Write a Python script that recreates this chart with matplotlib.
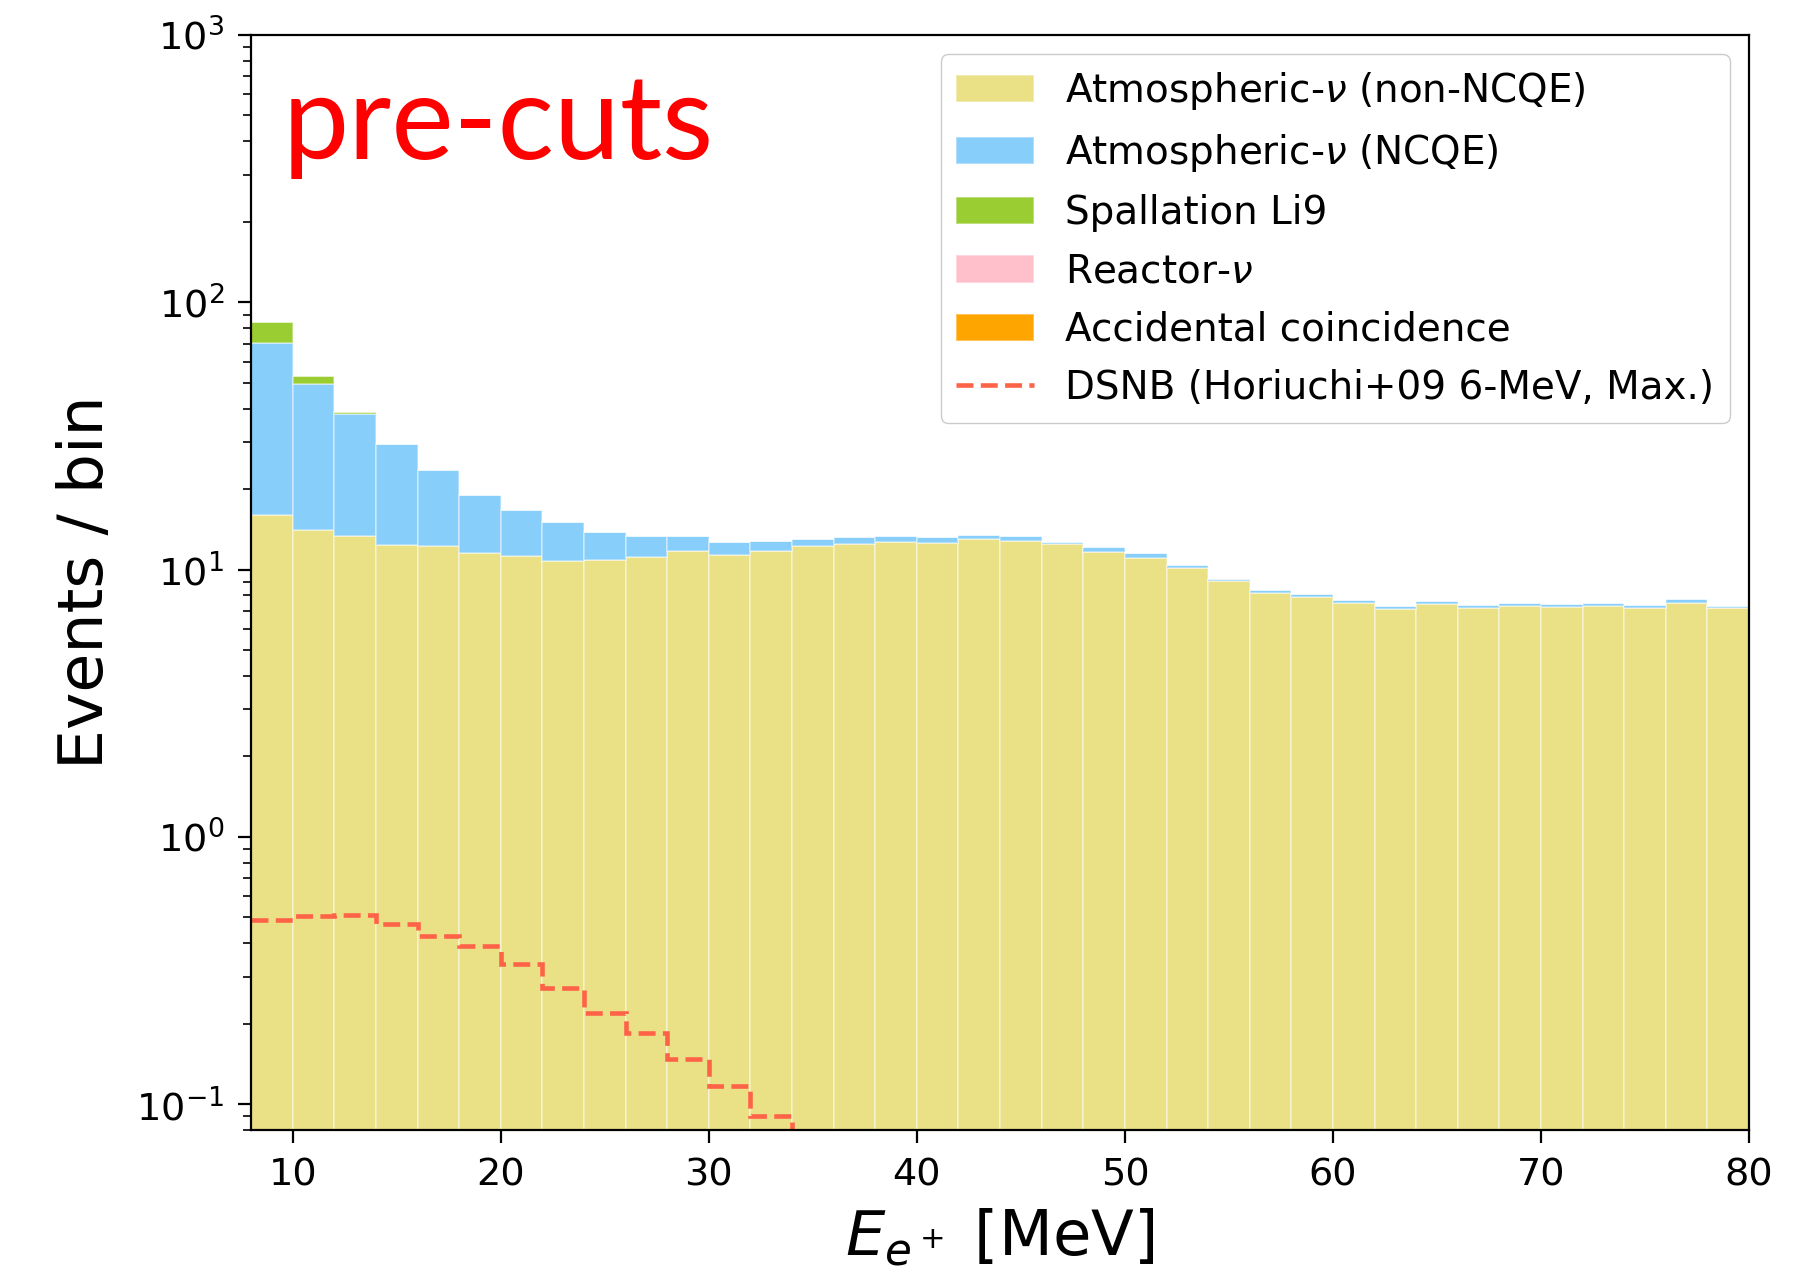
import numpy as np
import matplotlib
matplotlib.use("Agg")
import matplotlib.pyplot as plt

# ---- data (events per 2-MeV bin, 8-80 MeV) ----
bin_edges = list(range(8, 82, 2))

atm_non_ncqe = [16.0, 14.1, 13.3, 12.4, 12.2, 11.5, 11.2, 10.8, 10.9, 11.1, 11.7, 11.3,
                11.75, 12.2, 12.5, 12.7, 12.6, 13.0, 12.8, 12.45, 11.65, 11.0, 10.1, 9.04,
                8.18, 7.9, 7.5, 7.14, 7.41, 7.2, 7.29, 7.25, 7.31, 7.2, 7.52, 7.2]
atm_ncqe = [54.4, 35.4, 24.9, 17.1, 11.3, 7.5, 5.5, 4.2, 2.9, 2.2, 1.6, 1.4,
            1.05, 0.8, 0.7, 0.6, 0.6, 0.45, 0.5, 0.25, 0.45, 0.55, 0.3, 0.16,
            0.19, 0.18, 0.22, 0.17, 0.19, 0.15, 0.21, 0.2, 0.21, 0.15, 0.22, 0.13]
spallation_li9 = [13.7, 3.3, 0.7, 0.0, 0.0, 0.0, 0.0, 0.0, 0.0, 0.0, 0.0, 0.0,
                  0.0, 0.0, 0.0, 0.0, 0.0, 0.0, 0.0, 0.0, 0.0, 0.0, 0.0, 0.0,
                  0.0, 0.0, 0.0, 0.0, 0.0, 0.0, 0.0, 0.0, 0.0, 0.0, 0.0, 0.0]
reactor_nu = [0.0] * 36
accidental = [0.0] * 36
dsnb = [0.49, 0.507, 0.51, 0.47, 0.425, 0.39, 0.335, 0.272, 0.22, 0.184, 0.147, 0.117,
        0.090, 0.070, 0.055, 0.043, 0.033, 0.025, 0.019, 0.015, 0.011, 0.0085, 0.0065, 0.005,
        0.0038, 0.0029, 0.0022, 0.0017, 0.0013, 0.001, 0.0008, 0.0006, 0.00045, 0.00035, 0.00027, 0.0002]

labels = [r"Atmospheric-$\nu$ (non-NCQE)", r"Atmospheric-$\nu$ (NCQE)", "Spallation Li9",
          r"Reactor-$\nu$", "Accidental coincidence"]
colors = ["#EAE086", "lightskyblue", "yellowgreen", "pink", "orange"]
dsnb_label = "DSNB (Horiuchi+09 6-MeV, Max.)"
x_ticks = [10, 20, 30, 40, 50, 60, 70, 80]

# ---- figure ----
fig = plt.figure(figsize=(18.14, 12.77), dpi=100)
ax = fig.add_axes([0.1384, 0.1151, 0.8258, 0.8575])

edges = np.array(bin_edges, dtype=float)
widths = np.diff(edges)
bottom = np.zeros(len(widths))
handles = []
for vals, col, lab in zip([atm_non_ncqe, atm_ncqe, spallation_li9, reactor_nu, accidental],
                          colors, labels):
    v = np.array(vals)
    h = ax.bar(edges[:-1], v, width=widths, bottom=bottom, align="edge", color=col,
               edgecolor=(1, 1, 1, 0.4), linewidth=1.3, label=lab)
    handles.append(h)
    bottom = bottom + v

line = ax.stairs(dsnb, edges, baseline=None, color="tomato", linestyle="--",
                 linewidth=3.3, label=dsnb_label)
handles.append(line)

ax.set_yscale("log")
ax.set_xlim(8, 80)
ax.set_ylim(0.08, 1000)
ax.set_xticks(x_ticks)

for s in ax.spines.values():
    s.set_linewidth(1.6)
ax.tick_params(axis="both", which="major", labelsize=27.5, length=9.5, width=1.6, pad=10)
ax.tick_params(axis="both", which="minor", length=5.5, width=1.2)

ax.set_xlabel(r"$E_{e^+}$ [MeV]", fontsize=45, labelpad=10)
ax.set_ylabel("Events / bin", fontsize=45.5, labelpad=14)

leg = ax.legend(handles=handles, labels=labels + [dsnb_label], loc="upper right",
                fontsize=28, handlelength=2.0, labelspacing=0.52)
leg.get_frame().set_edgecolor("0.75")

ax.text(0.021, 0.887, "pre-cuts", transform=ax.transAxes, color="red",
        fontsize=85, family="Lato", ha="left", va="baseline")

fig.savefig("out.png", dpi=100)
